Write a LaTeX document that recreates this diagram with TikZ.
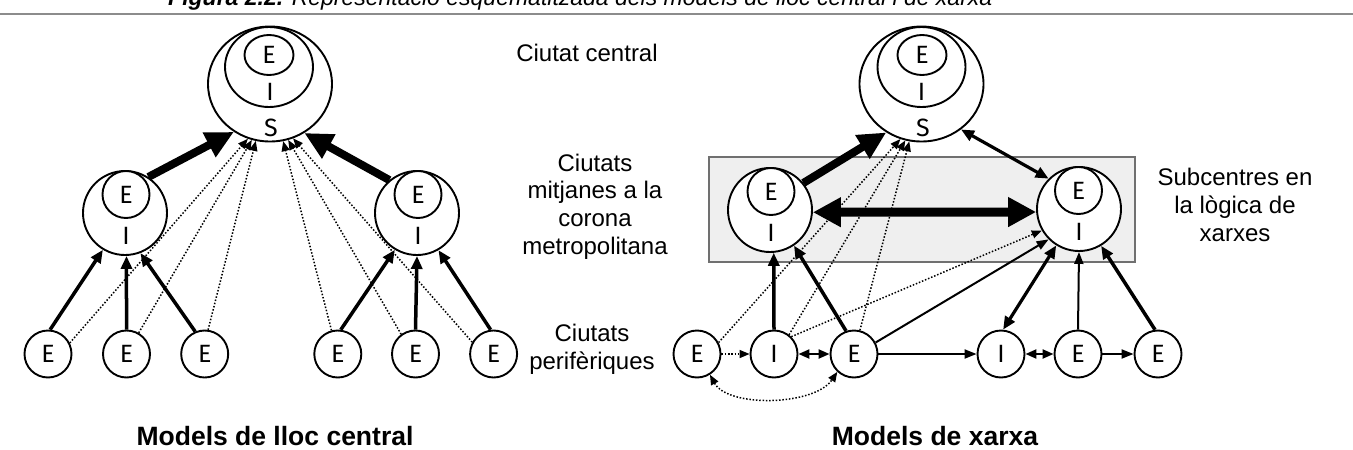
\documentclass[tikz,border=0pt]{standalone}
\usepackage{fontspec}
\setmainfont{Liberation Sans}
\newfontfamily\letterfont{Fira Sans}
\usetikzlibrary{arrows.meta,shapes.geometric}
\definecolor{boxfill}{HTML}{EFEFEF}
\definecolor{boxline}{HTML}{707070}
\definecolor{rulegray}{HTML}{8C8C8C}
\begin{document}
\begin{tikzpicture}[x=1pt,y=-1pt,
  ring/.style={draw, line width=1.9pt, fill=white, inner sep=0pt},
  bigring/.style={ring, ellipse, minimum width=124pt, minimum height=115pt},
  midring/.style={ring, ellipse, minimum width=88pt, minimum height=80pt},
  smallring/.style={ring, ellipse, minimum width=49pt, minimum height=40pt, font=\letterfont\fontsize{25}{25}\selectfont},
  sub/.style={ring, circle, minimum size=84pt},
  city/.style={ring, circle, minimum size=47pt, font=\letterfont\fontsize{25}{25}\selectfont},
  letter/.style={inner sep=0pt, font=\letterfont\fontsize{25}{25}\selectfont},
  lbl/.style={align=center, inner sep=0pt, font=\fontsize{24}{27.7}\selectfont},
  ttl/.style={inner sep=0pt, font=\fontsize{26.5}{28}\selectfont\bfseries},
  heavy/.style={line width=8pt, -{Triangle[length=28pt,width=26pt]}},
  huge/.style={line width=9pt, {Triangle[length=28pt,width=28pt]}-{Triangle[length=28pt,width=28pt]}},
  medium/.style={line width=3.5pt, -{Triangle[length=13pt,width=11pt]}},
  mediumboth/.style={line width=3.2pt, {Triangle[length=13pt,width=11pt]}-{Triangle[length=13pt,width=11pt]}},
  thinarr/.style={line width=2pt, -{Triangle[length=12pt,width=9pt]}},
  thinboth/.style={line width=2.2pt, {Triangle[length=11pt,width=9pt]}-{Triangle[length=11pt,width=9pt]}},
  dots/.style={line width=1.5pt, dash pattern=on 1.5pt off 1.8pt, -{Triangle[length=10pt,width=8pt]}},
  dotsboth/.style={line width=1.5pt, dash pattern=on 1.5pt off 1.8pt, {Triangle[length=10pt,width=8pt]}-{Triangle[length=10pt,width=8pt]}}
]
\useasboundingbox (0,0) rectangle (1353,450);

% title (clipped at the top, as in the reference) and rule
\node[anchor=base west, inner sep=0pt, font=\fontsize{23}{23}\selectfont\itshape] (title) at (168,5) {\textbf{Figura 2.2.} Representació esquematitzada dels models de lloc central i de xarxa};
\coordinate (ruleL) at (0,14);
\coordinate (ruleR) at (1353,14);
\draw[line width=2pt, rulegray] (ruleL) -- (ruleR);

% grey box of the network model
\draw[line width=1.5pt, draw=boxline, fill=boxfill] (709,157) rectangle (1135,262);

% ---------- left model ----------
\node[bigring] (Ls) at (270,84) {};
\node[midring] (Li) at (269,67) {};
\node[smallring] (Le) at (269,55) {E};
\node[letter] (LsI) at (270,92) {I};
\node[letter] (LsS) at (271,128) {S};

\node[sub] (La) at (125,213) {};
\node[city] (LaE) at (126,194.5) {E};
\node[letter] (LaI) at (126,236) {I};
\node[sub] (Lb) at (417,213) {};
\node[city] (LbE) at (418,194.5) {E};
\node[letter] (LbI) at (418,236) {I};

\node[city] (L1) at (48,354) {E};
\node[city] (L2) at (126.5,354) {E};
\node[city] (L3) at (204.7,354) {E};
\node[city] (L4) at (337.8,354) {E};
\node[city] (L5) at (415.5,354) {E};
\node[city] (L6) at (493.6,354) {E};

\draw[heavy] (La.57) -- (Ls.233);
\draw[heavy] (Lb.130) -- (Ls.305);
\draw[dots] (L1.27) -- (Ls.248);
\draw[dots] (L2.60) -- (Ls.252);
\draw[dots] (L3.82) -- (Ls.256);
\draw[dots] (L4.105) -- (Ls.283);
\draw[dots] (L5.126) -- (Ls.288);
\draw[dots] (L6.151) -- (Ls.293);
\draw[medium] (L1.85) -- (La.239);
\draw[medium] (L2.90) -- (La.272);
\draw[medium] (L3.113) -- (La.291);
\draw[medium] (L4.83) -- (Lb.239);
\draw[medium] (L5.90) -- (Lb.270);
\draw[medium] (L6.97) -- (Lb.300);

% ---------- network model ----------
\node[bigring] (Rs) at (921.5,84) {};
\node[midring] (Ri) at (921.5,67) {};
\node[smallring] (Re) at (922,55) {E};
\node[letter] (RsI) at (921.5,92) {I};
\node[letter] (RsS) at (923,128) {S};

\node[sub] (Ra) at (770,210) {};
\node[city] (RaE) at (771,191.5) {E};
\node[letter] (RaI) at (771,233) {I};
\node[sub] (Rb) at (1079,209) {};
\node[city] (RbE) at (1078.5,190.5) {E};
\node[letter] (RbI) at (1079,232) {I};

\node[city] (R1) at (697,354) {E};
\node[city] (R2) at (774,354) {I};
\node[city] (R3) at (854,354) {E};
\node[city] (R4) at (1001,354) {I};
\node[city] (R5) at (1078,354) {E};
\node[city] (R6) at (1158,354) {E};

\draw[heavy] (Ra.39) -- (Rs.234);
\draw[mediumboth] (Rs.311) -- (Rb.135);
\draw[huge] (Ra.-3) -- (Rb.184);
\draw[medium] (R2.north) -- (Ra.275);
\draw[medium] (R3.109) -- (Ra.304);
\draw[dots] (R1.28) -- (Rs.249);
\draw[dots] (R2.52) -- (Rs.254);
\draw[dots] (R3.76) -- (Rs.258);
\draw[dots] (R2.45) -- (Rb.210);
\draw[thinarr] (R3.28) -- (Rb.225);
\draw[mediumboth] (R4.85) -- (Rb.238);
\draw[thinarr] (R5.90) -- (Rb.270);
\draw[medium] (R6.97) -- (Rb.301);

\draw[dots] (R1) -- (R2);
\draw[thinboth] (R2) -- (R3);
\draw[thinarr] (R3) -- (R4);
\draw[thinboth] (R4) -- (R5);
\draw[thinarr] (R5) -- (R6);
\draw[dotsboth] (R1.302) .. controls +(18,33) and +(-23,34) .. (R3.227);

% ---------- labels ----------
\node[lbl] (tCentral) at (587,53) {Ciutat central};
\node[lbl] (tMitj) at (595,206.5) {Ciutats\\mitjanes a la\\corona\\metropolitana};
\node[lbl] (tPerif) at (592,349) {Ciutats\\perifèriques};
\node[lbl] (tSub) at (1235,205) {Subcentres en\\la lògica de\\xarxes};
\node[ttl] (tLeft) at (275,436) {Models de lloc central};
\node[ttl] (tRight) at (935,436) {Models de xarxa};
\end{tikzpicture}
\end{document}
